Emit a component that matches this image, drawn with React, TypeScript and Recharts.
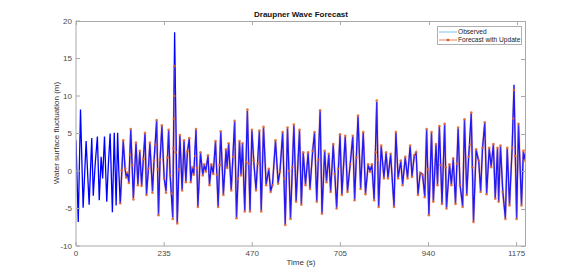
import { ComposedChart, Line, XAxis, YAxis } from 'recharts'

const xTicks = [0, 235, 470, 705, 940, 1175]
const yTicks = [-10, -5, 0, 5, 10, 15, 20]
const xDomain: [number, number] = [0, 1200]
const yDomain: [number, number] = [-10, 20]

// time (s), water surface elevation (m)
const observed: [number, number][] = [
  [0, 4.1], [6, -6.8], [12, 8.2], [19, -4.9], [27, 4.0], [35, -4.5], [42, 4.4], [46, -3.3],
  [51, 0.8], [57, 4.6], [62, -3.9], [67, 1.9], [71, -1.0], [76, 4.6], [82, -4.1], [86, 0.6],
  [91, 5.0], [97, -5.5], [102, 5.1], [107, -4.6], [111, 5.1], [114, 0.2], [118, -4.4],
  [126, 4.0], [131, 0.2], [134, -0.8], [137, -0.3], [141, -1.5], [146, 5.5], [153, -3.6],
  [160, 3.7], [165, -1.8], [170, 2.6], [175, -1.9], [184, 5.0], [188, -3.1], [193, 0.2],
  [197, 3.7], [204, -2.7], [208, 1.3], [215, 6.7], [220, -5.8], [224, 1.3], [229, 6.0],
  [235, -0.9], [240, -2.7], [247, 5.4], [251, -0.5], [258, -6.2], [263, 18.5], [270, -6.9],
  [277, 4.7], [283, -2.5], [288, 4.0], [293, -1.4], [297, 2.5], [302, 4.3], [306, -1.4],
  [310, 0.4], [314, -0.4], [320, 5.5], [325, -4.7], [332, 2.4], [338, -0.5], [342, 0.8],
  [346, 0], [352, 2.0], [356, -1.8], [361, 0.8], [366, -0.3], [372, 3.9], [379, -4.7],
  [386, 5.2], [393, -3.1], [400, 2.8], [403, 0.5], [407, 3.6], [414, -2.5], [423, 6.6],
  [428, -6.2], [436, 3.9], [440, -0.5], [444, 3.6], [450, -5.3], [457, 8.0], [464, -5.3],
  [469, 5.4], [474, 1.3], [480, -2.5], [489, 5.3], [494, -5.3], [500, 5.8], [507, -1.8],
  [514, 0.2], [519, -2.7], [524, -1.8], [532, 4.0], [539, -1.6], [544, 0], [551, 5.1],
  [558, -7.1], [564, 5.7], [572, -6.3], [581, 6.1], [587, -4.0], [596, 5.4], [601, -4.4],
  [606, 2.4], [612, -1.8], [619, 2.4], [624, -2.3], [631, 2.6], [636, 5.1], [642, -4.0],
  [651, 8.0], [656, -5.6], [663, 2.6], [668, -1.4], [674, 2.2], [679, -2.7], [686, 3.5],
  [695, -4.9], [704, 4.8], [709, -3.1], [718, 4.6], [724, -2.7], [731, 0.8], [738, 4.6],
  [743, -3.8], [752, 7.3], [759, -2.3], [766, 5.1], [772, -3.0], [779, 0.8], [784, 0],
  [789, 0.8], [795, -3.8], [802, 9.2], [807, -4.7], [814, 3.3], [821, -0.9], [827, 2.4],
  [832, -0.9], [839, 2.2], [848, -4.7], [853, 5.1], [859, -0.9], [866, 1.3], [871, -1.8],
  [878, 1.8], [884, -0.9], [891, 3.3], [896, -0.7], [902, 2.0], [907, 2.4], [912, -3.1],
  [918, -0.2], [924, -0.4], [930, -3.4], [935, 5.5], [941, -5.8], [948, 5.1], [953, -4.0],
  [960, 3.5], [964, -1.8], [969, 5.9], [976, -4.3], [983, 6.2], [988, -4.9], [996, 0.8],
  [1001, -1.8], [1006, 1.6], [1012, -4.3], [1019, 5.7], [1024, -1.8], [1031, -4.7],
  [1036, 6.8], [1042, -3.1], [1047, 1.8], [1054, 7.7], [1060, -6.7], [1067, 2.8], [1074, 1.3],
  [1079, -2.7], [1084, 3.0], [1090, 6.4], [1095, -3.0], [1102, 3.0], [1107, 0.6], [1113, 3.5],
  [1118, -3.6], [1124, 3.0], [1127, -4.0], [1132, 3.3], [1138, -2.7], [1145, -6.3],
  [1150, 3.0], [1156, -4.5], [1163, 3.0], [1168, 11.5], [1175, -6.3], [1180, 6.2],
  [1188, -4.5], [1193, 2.6], [1196, 1.5], [1200, 2.8],
]

const forecast: [number, number][] = [
  [118, -4.3], [122, 0.1], [126, 4.1], [131, 0.3], [134, -0.9], [137, -0.2], [141, -1.6],
  [144, 2.2], [146, 5.6], [150, 0.8], [153, -3.8], [160, 3.8], [165, -1.9], [170, 2.7],
  [175, -2.0], [180, 1.6], [184, 5.1], [188, -3.2], [193, 0.3], [197, 3.8], [204, -2.9],
  [208, 1.4], [212, 3.5], [215, 6.8], [218, 0.2], [220, -5.9], [224, 1.5], [229, 6.1],
  [235, -1.0], [240, -2.9], [244, 1.8], [247, 5.5], [251, -0.6], [255, -3.0], [258, -6.4],
  [260, 3.0], [261, 7.0], [262, 10.0], [263, 14.0], [266, 2.5], [270, -7.0], [274, 0.2],
  [277, 4.8], [283, -2.6], [288, 4.1], [293, -1.5], [297, 2.6], [302, 4.4], [306, -1.5],
  [310, 0.5], [314, -0.5], [318, 2.0], [320, 5.6], [323, 0.4], [325, -4.8], [332, 2.5],
  [338, -0.6], [342, 0.9], [346, -0.1], [352, 2.1], [356, -1.9], [361, 0.9], [366, -0.4],
  [372, 4.0], [376, -0.5], [379, -4.8], [383, 0.8], [386, 5.3], [393, -3.2], [400, 2.9],
  [403, 0.4], [407, 3.7], [414, -2.6], [419, 1.9], [423, 6.7], [428, -6.3], [432, -1.0],
  [436, 4.0], [440, -0.6], [444, 3.7], [450, -5.4], [454, 1.2], [457, 8.2], [460, 1.0],
  [464, -5.4], [469, 5.5], [474, 1.4], [480, -2.6], [485, 1.0], [489, 5.4], [494, -5.4],
  [500, 5.9], [507, -1.9], [514, 0.3], [519, -2.8], [524, -1.9], [532, 4.1], [539, -1.7],
  [544, -0.1], [551, 5.2], [555, -1.0], [558, -7.2], [564, 5.8], [568, 0.0], [572, -6.4],
  [577, 0.5], [581, 6.2], [587, -4.1], [596, 5.5], [601, -4.5], [606, 2.5], [612, -1.9],
  [619, 2.5], [624, -2.4], [631, 2.7], [636, 5.2], [642, -4.1], [647, 1.5], [651, 8.1],
  [656, -5.7], [663, 2.7], [668, -1.5], [674, 2.3], [679, -2.8], [686, 3.6], [690, -0.4],
  [695, -5.0], [699, 0.3], [704, 4.9], [709, -3.2], [718, 4.7], [724, -2.8], [731, 0.9],
  [738, 4.7], [743, -3.9], [748, 1.8], [752, 7.4], [759, -2.4], [766, 5.2], [772, -3.1],
  [779, 0.9], [784, -0.1], [789, 0.9], [795, -3.9], [799, 2.5], [802, 9.4], [805, 1.5],
  [807, -4.8], [814, 3.4], [821, -1.0], [827, 2.5], [832, -1.0], [839, 2.3], [848, -4.8],
  [853, 5.2], [859, -1.0], [866, 1.4], [871, -1.9], [878, 1.9], [884, -1.0], [891, 3.4],
  [896, -0.8], [902, 2.1], [907, 2.5], [912, -3.2], [918, -0.3], [924, -0.5], [930, -3.5],
  [935, 5.6], [938, 0.2], [941, -5.9], [948, 5.2], [953, -4.1], [960, 3.6], [964, -1.9],
  [969, 6.0], [972, 0.8], [976, -4.4], [983, 6.3], [986, 0.5], [988, -5.0], [996, 0.9],
  [1001, -1.9], [1006, 1.7], [1012, -4.4], [1016, 1.0], [1019, 5.8], [1024, -1.9],
  [1031, -4.8], [1036, 6.9], [1042, -3.2], [1047, 1.9], [1051, 3.5], [1054, 7.8],
  [1057, 0.5], [1060, -6.8], [1067, 2.9], [1074, 1.4], [1079, -2.8], [1084, 3.1],
  [1090, 6.5], [1095, -3.1], [1102, 3.1], [1107, 0.5], [1113, 3.6], [1118, -3.7],
  [1124, 3.1], [1127, -4.1], [1132, 3.4], [1138, -2.8], [1145, -6.4], [1150, 3.1],
  [1156, -4.6], [1163, 3.1], [1166, 7.0], [1168, 10.8], [1171, 2.0], [1175, -6.4],
  [1180, 6.3], [1188, -4.6], [1193, 2.7], [1196, 1.4], [1200, 2.9],
]

const observedData = observed.map(([t, v]) => ({ t, v }))
const forecastData = forecast.map(([t, v]) => ({ t, v }))

const font = '"Liberation Sans", Arial, sans-serif'
const axisColor = '#a8a8a8'
const tickStyle = { fill: '#4a4a4a', fontSize: 8, fontFamily: font }

// plot box in pixels (matches chart margins + axis sizes below)
const box = { left: 76, top: 21, width: 450, height: 225 }

// MATLAB-style box: top and right edges with inward ticks
const BoxOverlay = () => (
  <div style={{ position: 'absolute', left: box.left, top: box.top, width: box.width, height: box.height, pointerEvents: 'none' }}>
    <div style={{ position: 'absolute', left: 0, top: 0, width: box.width, height: 1, background: axisColor }} />
    <div style={{ position: 'absolute', left: box.width - 1, top: 0, width: 1, height: box.height, background: axisColor }} />
    {xTicks.map((t) => (
      <div key={`xt${t}`} style={{ position: 'absolute', left: Math.round(((t - xDomain[0]) / (xDomain[1] - xDomain[0])) * box.width), top: 0, width: 1, height: 4, background: axisColor }} />
    ))}
    {yTicks.map((v) => (
      <div key={`yt${v}`} style={{ position: 'absolute', left: box.width - 5, top: Math.round(((yDomain[1] - v) / (yDomain[1] - yDomain[0])) * box.height), width: 4, height: 1, background: axisColor }} />
    ))}
  </div>
)

export default function App() {
  return (
    <div style={{ position: 'absolute', left: 0, top: 0, width: 581, height: 276, background: '#fff', fontFamily: font }}>
      <ComposedChart width={581} height={276} margin={{ top: 21, right: 55, bottom: 0, left: 0 }}>
        <XAxis
          dataKey="t"
          type="number"
          domain={xDomain}
          ticks={xTicks}
          height={30}
          tickSize={-4}
          tickMargin={8}
          stroke={axisColor}
          tick={tickStyle}
          allowDataOverflow
        />
        <YAxis
          type="number"
          domain={yDomain}
          ticks={yTicks}
          width={76}
          tickSize={-4}
          tickMargin={8}
          stroke={axisColor}
          tick={tickStyle}
          allowDataOverflow
        />
        <Line
          data={forecastData}
          dataKey="v"
          type="linear"
          stroke="#d95319"
          strokeOpacity={0.3}
          strokeWidth={2.4}
          dot={false}
          isAnimationActive={false}
        />
        <Line
          data={observedData}
          dataKey="v"
          type="linear"
          stroke="#0000ff"
          strokeWidth={1.3}
          dot={false}
          isAnimationActive={false}
        />
        <Line
          data={forecastData}
          dataKey="v"
          type="linear"
          stroke="#9a6fd0"
          strokeOpacity={0.3}
          strokeWidth={0.8}
          dot={{ r: 1.3, fill: '#e0622a', fillOpacity: 0.85, stroke: 'none' }}
          isAnimationActive={false}
        />
      </ComposedChart>

      <BoxOverlay />

      <div style={{ position: 'absolute', left: 301, top: 10, transform: 'translateX(-50%)', fontSize: 8, fontWeight: 'bold', color: '#111', whiteSpace: 'nowrap' }}>
        Draupner Wave Forecast
      </div>
      <div style={{ position: 'absolute', left: 301, top: 258, transform: 'translateX(-50%)', fontSize: 8, color: '#333', whiteSpace: 'nowrap' }}>
        Time (s)
      </div>
      <div style={{ position: 'absolute', left: 56, top: 133, transform: 'translate(-50%, -50%) rotate(-90deg)', fontSize: 8, color: '#333', whiteSpace: 'nowrap' }}>
        Water surface fluctuation (m)
      </div>

      <div style={{ position: 'absolute', left: 437, top: 26, width: 83, height: 17, border: '1px solid #b0b0b0', background: '#fff', fontSize: 6.6, color: '#222', lineHeight: '8px', whiteSpace: 'nowrap', overflow: 'hidden' }}>
        <div style={{ display: 'flex', alignItems: 'center', marginTop: 1 }}>
          <svg width={20} height={8}>
            <line x1={1} y1={4} x2={19} y2={4} stroke="#7fc3ee" strokeWidth={1} />
          </svg>
          <span>Observed</span>
        </div>
        <div style={{ display: 'flex', alignItems: 'center' }}>
          <svg width={20} height={8}>
            <line x1={1} y1={4} x2={19} y2={4} stroke="#d95319" strokeOpacity={0.45} strokeWidth={1.6} />
            <circle cx={10} cy={4} r={1.3} fill="#d95319" />
          </svg>
          <span>Forecast with Update</span>
        </div>
      </div>
    </div>
  )
}
